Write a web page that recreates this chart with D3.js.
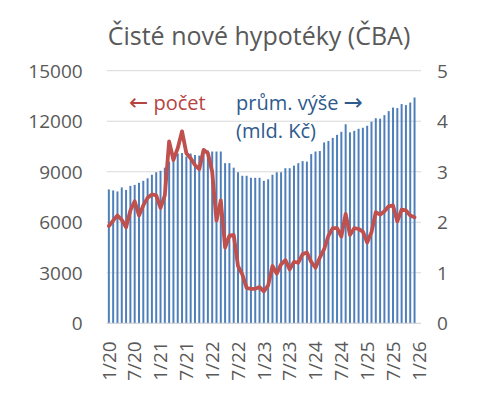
<!DOCTYPE html>
<html>
<head>
<meta charset="utf-8">
<script src="https://cdn.jsdelivr.net/npm/d3@7"></script>
<style>
  body { margin: 0; background: #fff; }
  svg text { font-family: "Open Sans", "Noto Sans", sans-serif; }
  .arrow { font-family: "DejaVu Sans", sans-serif; font-size: 23px; }
</style>
</head>
<body>
<div id="chart"></div>
<script>
const months = [
  '1/20','2/20','3/20','4/20','5/20','6/20','7/20','8/20','9/20','10/20','11/20','12/20',
  '1/21','2/21','3/21','4/21','5/21','6/21','7/21','8/21','9/21','10/21','11/21','12/21',
  '1/22','2/22','3/22','4/22','5/22','6/22','7/22','8/22','9/22','10/22','11/22','12/22',
  '1/23','2/23','3/23','4/23','5/23','6/23','7/23','8/23','9/23','10/23','11/23','12/23',
  '1/24','2/24','3/24','4/24','5/24','6/24','7/24','8/24','9/24','10/24','11/24','12/24',
  '1/25','2/25','3/25','4/25','5/25','6/25','7/25','8/25','9/25','10/25','11/25','12/25',
  '1/26'
];

// průměrná výše (mld. Kč), pravá osa
const avgAmount = [
  2.65, 2.63, 2.61, 2.69, 2.64, 2.72, 2.74, 2.78, 2.82, 2.87, 2.94, 2.99,
  3.02, 3.08, 3.20, 3.30, 3.36, 3.37, 3.30, 3.36, 3.33, 3.32, 3.40, 3.42,
  3.40, 3.40, 3.40, 3.17, 3.17, 3.08, 2.99, 2.92, 2.92, 2.88, 2.88, 2.88,
  2.82, 2.85, 2.94, 2.99, 2.99, 3.07, 3.07, 3.12, 3.17, 3.21, 3.20, 3.35,
  3.40, 3.41, 3.58, 3.61, 3.67, 3.73, 3.79, 3.94, 3.78, 3.81, 3.85, 3.87,
  3.91, 3.99, 4.06, 4.05, 4.12, 4.20, 4.27, 4.26, 4.34, 4.32, 4.37, 4.47,
  null
];

// počet, levá osa
const count = [
  5780, 6100, 6400, 6150, 5700, 6700, 7250, 6400, 7000, 7450, 7650, 7600,
  6850, 7600, 10800, 9700, 10400, 11400, 10100, 9800, 9400, 9150, 10300, 10100,
  9000, 6100, 7300, 4500, 5200, 5250, 3400, 2900, 2100, 2050, 2050, 2150,
  1900, 2250, 3400, 2950, 3500, 3750, 3200, 3650, 3600, 4100, 4200, 3650,
  3300, 3900, 4400, 5200, 5650, 5650, 5150, 6500, 5250, 5650, 5600, 5450,
  4800, 5400, 6600, 6450, 6650, 6950, 7000, 6050, 6750, 6700, 6400, 6300,
  null
];

const leftTicks = [0, 3000, 6000, 9000, 12000, 15000];
const rightTicks = [0, 1, 2, 3, 4, 5];
const xTickLabels = ['1/20','7/20','1/21','7/21','1/22','7/22','1/23','7/23','1/24','7/24','1/25','7/25','1/26'];

const width = 488, height = 402;
const plot = { left: 106.7, right: 421, top: 70.7, bottom: 323.3 };
const textColor = '#595959';
const barColor = '#4F7FBA';
const lineColor = '#C0504D';

const svg = d3.select('#chart').append('svg')
  .attr('width', width)
  .attr('height', height);

const x = d3.scaleBand()
  .domain(months)
  .range([plot.left, plot.right])
  .padding(0);

const yLeft = d3.scaleLinear().domain([0, 15000]).range([plot.bottom, plot.top]);
const yRight = d3.scaleLinear().domain([0, 5]).range([plot.bottom, plot.top]);

// title
svg.append('text')
  .attr('x', 259)
  .attr('y', 45)
  .attr('text-anchor', 'middle')
  .attr('font-size', 25)
  .attr('fill', textColor)
  .text('Čisté nové hypotéky (ČBA)');

// gridlines
svg.append('g')
  .selectAll('line')
  .data(leftTicks)
  .join('line')
  .attr('x1', plot.left)
  .attr('x2', plot.right)
  .attr('y1', d => yLeft(d))
  .attr('y2', d => yLeft(d))
  .attr('stroke', '#d9d9d9')
  .attr('stroke-width', 1);

// left axis
const leftAxis = svg.append('g')
  .attr('transform', `translate(${plot.left - 24},0)`)
  .call(d3.axisLeft(yLeft).tickValues(leftTicks).tickSize(0).tickPadding(0).tickFormat(d3.format('d')));
leftAxis.select('.domain').remove();
leftAxis.selectAll('text')
  .attr('font-size', 19)
  .attr('fill', textColor)
  .attr('dy', '0.35em');

// right axis
const rightAxis = svg.append('g')
  .attr('transform', `translate(${plot.right + 16},0)`)
  .call(d3.axisRight(yRight).tickValues(rightTicks).tickSize(0).tickPadding(0).tickFormat(d3.format('d')));
rightAxis.select('.domain').remove();
rightAxis.selectAll('text')
  .attr('font-size', 19)
  .attr('fill', textColor)
  .attr('dy', '0.35em');

// bars
const bw = x.bandwidth();
svg.append('g')
  .selectAll('rect')
  .data(months.map((m, i) => ({ m, v: avgAmount[i] })).filter(d => d.v != null))
  .join('rect')
  .attr('x', d => x(d.m) + bw * 0.27)
  .attr('width', bw * 0.46)
  .attr('y', d => yRight(d.v))
  .attr('height', d => yRight(0) - yRight(d.v))
  .attr('fill', barColor);

// bottom axis line
svg.append('line')
  .attr('x1', plot.left)
  .attr('x2', plot.right)
  .attr('y1', plot.bottom)
  .attr('y2', plot.bottom)
  .attr('stroke', '#d9d9d9');

// line
const line = d3.line()
  .defined(d => d.v != null)
  .x(d => x(d.m) + bw / 2)
  .y(d => yLeft(d.v));

svg.append('path')
  .datum(months.map((m, i) => ({ m, v: count[i] })))
  .attr('d', line)
  .attr('fill', 'none')
  .attr('stroke', lineColor)
  .attr('stroke-width', 3.8)
  .attr('stroke-linejoin', 'round')
  .attr('stroke-linecap', 'round');

// x labels (rotated)
const xAxis = svg.append('g')
  .attr('transform', `translate(0,${plot.bottom + 18})`)
  .call(d3.axisBottom(x).tickValues(xTickLabels).tickSize(0).tickPadding(0));
xAxis.select('.domain').remove();
xAxis.selectAll('text')
  .attr('font-size', 19)
  .attr('fill', textColor)
  .attr('transform', 'rotate(-90)')
  .attr('text-anchor', 'end')
  .attr('x', 0)
  .attr('y', 0)
  .attr('dy', '0.35em');

// annotations
const countLabel = svg.append('text')
  .attr('x', 129)
  .attr('y', 110)
  .attr('font-size', 20)
  .attr('fill', '#B5443F');
countLabel.append('tspan').attr('class', 'arrow').text('←');
countLabel.append('tspan').text(' počet');

const amountLabel = svg.append('text')
  .attr('x', 236)
  .attr('y', 110)
  .attr('font-size', 20)
  .attr('fill', '#2E5A8C');
amountLabel.append('tspan').text('prům. výše ');
amountLabel.append('tspan').attr('class', 'arrow').text('→');

svg.append('text')
  .attr('x', 236)
  .attr('y', 138)
  .attr('font-size', 20)
  .attr('fill', '#2E5A8C')
  .text('(mld. Kč)');
</script>
</body>
</html>
